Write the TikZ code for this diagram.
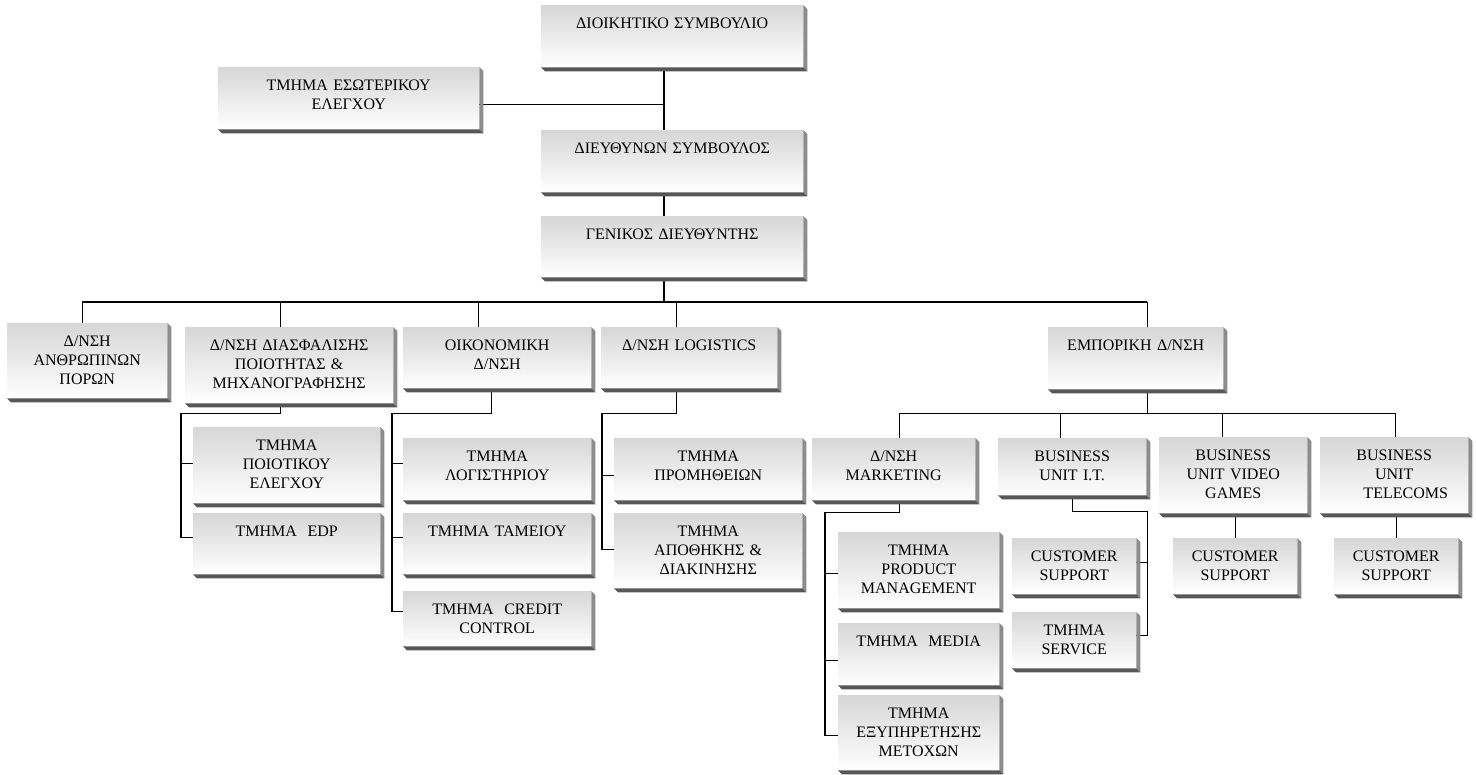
\documentclass[tikz,border=0pt]{standalone}
\usepackage{fontspec}
\setmainfont{Liberation Serif}
\usetikzlibrary{backgrounds}
\begin{document}
\begin{tikzpicture}[x=1pt, y=-1pt,
        unit/.style={anchor=north west, inner sep=0pt, top color=black!16, bottom color=white, align=center, font=\fontsize{16}{19}\selectfont, text height=23pt},
        link/.style={line width=1.2pt},
        side/.style={fill=black!45},
        base/.style={fill=black!66}]
        \useasboundingbox (0,0) rectangle (1476,775);
        % Units
        \foreach \n/\x/\y/\w/\h/\t in {
            dioik/541/5/262/62/{ΔΙΟΙΚΗΤΙΚΟ ΣΥΜΒΟΥΛΙΟ},
            esot/218/67/261/62/{ΤΜΗΜΑ ΕΣΩΤΕΡΙΚΟΥ\\ΕΛΕΓΧΟΥ},
            dieth/541/130/262/62/{ΔΙΕΥΘΥΝΩΝ ΣΥΜΒΟΥΛΟΣ},
            genik/541/216/262/61/{ΓΕΝΙΚΟΣ ΔΙΕΥΘΥΝΤΗΣ},
            anthr/7/323/160/75/{Δ/ΝΣΗ\\ΑΝΘΡΩΠΙΝΩΝ\\ΠΟΡΩΝ},
            diasf/185/327/208/76/{Δ/ΝΣΗ ΔΙΑΣΦΑΛΙΣΗΣ\\ΠΟΙΟΤΗΤΑΣ \&\\ΜΗΧΑΝΟΓΡΑΦΗΣΗΣ},
            oikon/403/327/188/61/{ΟΙΚΟΝΟΜΙΚΗ\\Δ/ΝΣΗ},
            logis/601/327/176/61/{Δ/ΝΣΗ LOGISTICS},
            empor/1048/327/175/62/{ΕΜΠΟΡΙΚΗ Δ/ΝΣΗ},
            poiot/193/427/187/76/{ΤΜΗΜΑ\\ΠΟΙΟΤΙΚΟΥ\\ΕΛΕΓΧΟΥ},
            edp/193/513/187/61/{ΤΜΗΜΑ~ EDP},
            logist/403/438/188/62/{ΤΜΗΜΑ\\ΛΟΓΙΣΤΗΡΙΟΥ},
            tameio/403/513/188/61/{ΤΜΗΜΑ ΤΑΜΕΙΟΥ},
            credit/403/591/188/55/{ΤΜΗΜΑ~ CREDIT\\CONTROL},
            promi/614/438/188/62/{ΤΜΗΜΑ\\ΠΡΟΜΗΘΕΙΩΝ},
            apoth/614/513/188/75/{ΤΜΗΜΑ\\ΑΠΟΘΗΚΗΣ \&\\ΔΙΑΚΙΝΗΣΗΣ},
            mark/812/438/163/62/{Δ/ΝΣΗ\\MARKETING},
            it/998/438/148/57/{BUSINESS\\UNIT I.T.},
            video/1159/437/148/76/{BUSINESS\\UNIT VIDEO\\GAMES},
            tele/1320/437/148/76/{BUSINESS\\UNIT\\\hspace*{23pt}TELECOMS},
            prod/838/532/161/76/{ΤΜΗΜΑ\\PRODUCT\\MANAGEMENT},
            media/838/623/161/62/{ΤΜΗΜΑ~ MEDIA},
            exyp/838/695/161/75/{ΤΜΗΜΑ\\ΕΞΥΠΗΡΕΤΗΣΗΣ\\ΜΕΤΟΧΩΝ},
            csit/1012/538/124/56/{CUSTOMER\\SUPPORT},
            serv/1012/612/124/56/{ΤΜΗΜΑ\\SERVICE},
            csvid/1173/538/124/56/{CUSTOMER\\SUPPORT},
            cstel/1334/538/124/56/{CUSTOMER\\SUPPORT}}
            \node [unit, text width=\w pt, text depth=\h pt-23pt] (\n) at (\x,\y) {\t};
        % Shadows
        \foreach \n in {dioik,esot,dieth,genik,anthr,diasf,oikon,logis,empor,poiot,edp,logist,tameio,credit,promi,apoth,mark,it,video,tele,prod,media,exyp,csit,serv,csvid,cstel} {
            \fill[side] (\n.north east) -- ++(4,4) -- ([shift={(4,4)}]\n.south east) -- (\n.south east) -- cycle;
            \fill[base] (\n.south west) -- (\n.south east) -- ([shift={(4,4)}]\n.south east) -- ([shift={(4,4)}]\n.south west) -- cycle;
        }
        \begin{scope}[on background layer]
        % Board and management
        \coordinate (trunk) at (664,302);
        \draw[link] (dioik.south -| trunk) -- (dieth.north -| trunk);
        \draw[link] ([yshift=-6pt]esot.east) -- ([yshift=-6pt]esot.east -| trunk);
        \draw[link] (dieth.south -| trunk) -- (genik.north -| trunk);
        \draw[link] (genik.south -| trunk) -- (trunk);
        % Divisions
        \draw[link] ([xshift=-5pt]anthr.north |- trunk) -- ([xshift=11.5pt]empor.north |- trunk);
        \foreach \n/\s in {anthr/-5, diasf/-9, oikon/-19, logis/-13, empor/11.5}
            \draw[link] ([xshift=\s pt]\n.north |- trunk) -- ([xshift=\s pt]\n.north);
        % Quality and IT
        \draw[link] ([xshift=-9pt]diasf.south) -- ++(0,10) -| ([xshift=-12pt,yshift=6.5pt]edp.west) -- ([yshift=6.5pt]edp.west);
        \draw[link] ([xshift=-12pt,yshift=2pt]poiot.west) -- ([yshift=2pt]poiot.west);
        % Finance
        \draw[link] ([xshift=-6pt]oikon.south) -- ++(0,25) -| ([xshift=-11pt,yshift=7.5pt]credit.west) -- ([yshift=7.5pt]credit.west);
        \foreach \n/\s in {logist/6, tameio/6.5}
            \draw[link] ([xshift=-11pt,yshift=\s pt]\n.west) -- ([yshift=\s pt]\n.west);
        % Logistics
        \draw[link] ([xshift=-13pt]logis.south) -- ++(0,25) -| ([xshift=-12pt,yshift=1.5pt]apoth.west) -- ([yshift=1.5pt]apoth.west);
        \draw[link] ([xshift=-12pt,yshift=-6pt]promi.west) -- ([yshift=-6pt]promi.west);
        % Sales
        \draw[link] ([xshift=11.5pt]empor.south) -- ++(0,24) coordinate (sales);
        \draw[link] ([xshift=5.5pt]mark.north |- sales) -- ([xshift=1pt]tele.north |- sales);
        \foreach \n/\s in {mark/5.5, it/-12, video/-11, tele/1}
            \draw[link] ([xshift=\s pt]\n.north |- sales) -- ([xshift=\s pt]\n.north);
        % Marketing
        \draw[link] ([xshift=5.5pt]mark.south) -- ++(0,12) -| ([xshift=-13pt,yshift=-2.5pt]exyp.west) -- ([yshift=-2.5pt]exyp.west);
        \foreach \n/\s in {prod/-3, media/-6}
            \draw[link] ([xshift=-13pt,yshift=\s pt]\n.west) -- ([yshift=\s pt]\n.west);
        % Business units
        \draw[link] (it.south) -- ++(0,16) -| ([xshift=11pt,yshift=5pt]serv.east) -- ([yshift=5pt]serv.east);
        \draw[link] ([xshift=11pt,yshift=4pt]csit.east) -- ([yshift=4pt]csit.east);
        \draw[link] (csvid.north |- video.south) -- (csvid.north);
        \draw[link] (cstel.north |- tele.south) -- (cstel.north);
        \end{scope}
    \end{tikzpicture}
\end{document}
